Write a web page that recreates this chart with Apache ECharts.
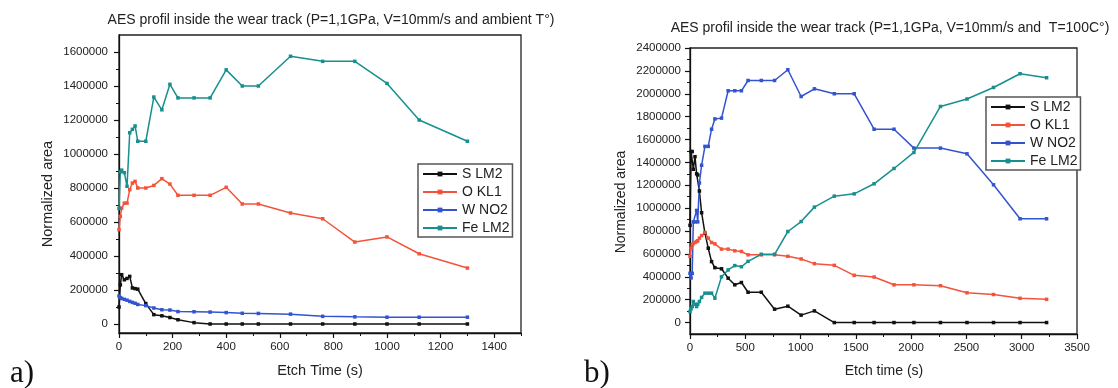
<!DOCTYPE html>
<html>
<head>
<meta charset="utf-8">
<script src="https://cdn.jsdelivr.net/npm/echarts@6/dist/echarts.min.js"></script>
<style>
  html, body { margin: 0; padding: 0; background: #fff; }
  #main { width: 1118px; height: 388px; }
</style>
</head>
<body>
<div id="main"></div>
<script>
// a) ambient temperature
const timeA = [0, 5, 10, 20, 30, 40, 50, 60, 70, 100, 130, 160, 190, 220, 280, 340, 400, 460, 520, 640, 760, 880, 1000, 1120, 1300]
const sLm2A = [100000, 230000, 290000, 260000, 268000, 280000, 212000, 208000, 205000, 120000, 55000, 48000, 38000, 25000, 8000, 0, 0, 0, 0, 0, 0, 0, 0, 0, 0]
const oKl1A = [555000, 633000, 682000, 711000, 711000, 790000, 829000, 839000, 800000, 800000, 815000, 855000, 823000, 757000, 757000, 757000, 804000, 706000, 706000, 653000, 619000, 482000, 512000, 413000, 329000]
const wNo2A = [165000, 155000, 150000, 145000, 140000, 133000, 127000, 122000, 115000, 108000, 94000, 84000, 82000, 73000, 72000, 70000, 67000, 63000, 62000, 58000, 45000, 42000, 40000, 40000, 40000]
const feLm2A = [680000, 895000, 905000, 890000, 810000, 1125000, 1145000, 1165000, 1075000, 1075000, 1335000, 1260000, 1410000, 1330000, 1330000, 1330000, 1495000, 1400000, 1400000, 1575000, 1545000, 1545000, 1415000, 1200000, 1075000]

// b) T = 100 C
const timeB = [0, 10, 20, 30, 45, 60, 70, 85, 105, 135, 165, 195, 225, 285, 345, 405, 465, 525, 645, 765, 885, 1005, 1125, 1305, 1485, 1665, 1845, 2025, 2265, 2505, 2745, 2985, 3225]
const sLm2B = [850000, 1495000, 1495000, 1340000, 1450000, 1300000, 1290000, 1150000, 960000, 782000, 650000, 533000, 480000, 470000, 388000, 330000, 350000, 265000, 265000, 117000, 143000, 65000, 102000, 0, 0, 0, 0, 0, 0, 0, 0, 0, 0]
const oKl1B = [580000, 650000, 680000, 690000, 700000, 708000, 715000, 738000, 760000, 787000, 738000, 700000, 688000, 642000, 642000, 627000, 621000, 592000, 592000, 592000, 579000, 556000, 515000, 500000, 413000, 398000, 330000, 330000, 322000, 260000, 245000, 212000, 203000]
const wNo2B = [430000, 390000, 430000, 880000, 880000, 980000, 880000, 1220000, 1375000, 1540000, 1540000, 1690000, 1780000, 1787000, 2026000, 2026000, 2026000, 2116000, 2116000, 2116000, 2210000, 1976000, 2043000, 2000000, 2000000, 1690000, 1690000, 1525000, 1525000, 1475000, 1204000, 907000, 907000]
const feLm2B = [96000, 120000, 140000, 184000, 160000, 140000, 160000, 184000, 220000, 257000, 257000, 257000, 213000, 400000, 460000, 498000, 488000, 535000, 597000, 597000, 796000, 883000, 1009000, 1105000, 1125000, 1213000, 1347000, 1487000, 1889000, 1954000, 2055000, 2175000, 2140000]

const names = ['S LM2', 'O KL1', 'W NO2', 'Fe LM2']
const colors = ['#111111', '#f4533b', '#3354cf', '#178f8f']

// tick labels
const xTicksA = [0, 200, 400, 600, 800, 1000, 1200, 1400]
const xMinorA = [100, 300, 500, 700, 900, 1100, 1300, 1500]
const yTicksA = [0, 200000, 400000, 600000, 800000, 1000000, 1200000, 1400000, 1600000]
const yMinorA = [100000, 300000, 500000, 700000, 900000, 1100000, 1300000, 1500000]
const xTicksB = [0, 500, 1000, 1500, 2000, 2500, 3000, 3500]
const xMinorB = [250, 750, 1250, 1750, 2250, 2750, 3250]
const yTicksB = [0, 200000, 400000, 600000, 800000, 1000000, 1200000, 1400000, 1600000, 1800000, 2000000, 2200000, 2400000]
const yMinorB = [100000, 300000, 500000, 700000, 900000, 1100000, 1300000, 1500000, 1700000, 1900000, 2100000, 2300000]

const font = '"Liberation Sans", Arial, sans-serif'
const labelText = { color: '#222', fontSize: 11.5, fontFamily: font }

const mainAxis = (grid, min, max, ticks, margin, pos) => ({
  type: 'value', gridIndex: grid, min, max, position: pos,
  axisLine: { show: true, onZero: false, lineStyle: { color: '#111', width: 1.3 } },
  axisTick: { show: true, customValues: ticks, length: 5, lineStyle: { color: '#111', width: 1.2 } },
  axisLabel: { customValues: ticks, margin, formatter: v => String(v), ...labelText },
  splitLine: { show: false }
})
const minorAxis = (grid, min, max, ticks, pos) => ({
  type: 'value', gridIndex: grid, min, max, position: pos,
  axisLine: { show: false, onZero: false },
  axisTick: { show: true, customValues: ticks, length: 3, lineStyle: { color: '#111', width: 1 } },
  axisLabel: { show: false },
  splitLine: { show: false }
})

const makeSeries = (xs, list, axis) => list.map((ys, k) => ({
  name: names[k], type: 'line', xAxisIndex: axis, yAxisIndex: axis,
  data: xs.map((t, i) => [t, ys[i]]),
  symbol: 'rect', symbolSize: 3.5, showSymbol: true,
  lineStyle: { color: colors[k], width: 1.5 },
  itemStyle: { color: colors[k] },
  emphasis: { disabled: true }
}))

const legendBox = (left, top) => ({
  data: names, left, top, orient: 'vertical',
  itemWidth: 34, itemHeight: 6, itemGap: 4,
  textStyle: { fontSize: 14, color: '#222', fontFamily: font },
  borderColor: '#555', borderWidth: 1.5, padding: [3, 3, 2, 4],
  backgroundColor: '#fff'
})

const txt = (text, x, y, size, extra) => ({
  type: 'text', x, y, ...extra,
  style: { text, fill: '#222', font: size + 'px ' + font, align: 'center', verticalAlign: 'middle' }
})

const chart = echarts.init(document.getElementById('main'))
const option = {
  animation: false,
  color: colors,
  grid: [
    { left: 119, top: 35, width: 402, height: 298, show: true, borderColor: '#222', borderWidth: 1.3, backgroundColor: 'transparent' },
    { left: 690, top: 48, width: 387, height: 286, show: true, borderColor: '#222', borderWidth: 1.3, backgroundColor: 'transparent' }
  ],
  xAxis: [
    mainAxis(0, 0, 1500, xTicksA, 8, 'bottom'),
    minorAxis(0, 0, 1500, xMinorA, 'bottom'),
    mainAxis(1, 0, 3500, xTicksB, 8, 'bottom'),
    minorAxis(1, 0, 3500, xMinorB, 'bottom')
  ],
  yAxis: [
    mainAxis(0, -53000, 1700000, yTicksA, 11, 'left'),
    minorAxis(0, -53000, 1700000, yMinorA, 'left'),
    mainAxis(1, -100000, 2400000, yTicksB, 9, 'left'),
    minorAxis(1, -100000, 2400000, yMinorB, 'left')
  ],
  legend: [legendBox(418, 164), legendBox(986, 97)],
  series: [
    ...makeSeries(timeA, [sLm2A, oKl1A, wNo2A, feLm2A], 0),
    ...makeSeries(timeB, [sLm2B, oKl1B, wNo2B, feLm2B], 2)
  ],
  graphic: [
    txt('AES profil inside the wear track (P=1,1GPa, V=10mm/s and ambient T°)', 331, 20, 14),
    txt('AES profil inside the wear track (P=1,1GPa, V=10mm/s and  T=100C°)', 890, 28, 14),
    txt('Normalized area', 48, 194, 14.5, { rotation: Math.PI / 2 }),
    txt('Normalized area', 621, 202, 14, { rotation: Math.PI / 2 }),
    txt('Etch Time (s)', 320, 371, 14.5),
    txt('Etch time (s)', 884, 371, 14),
    { type: 'text', x: 10, y: 374, style: { text: 'a)', fill: '#111', font: '31px "Liberation Serif", serif', verticalAlign: 'middle' } },
    { type: 'text', x: 584, y: 374, style: { text: 'b)', fill: '#111', font: '31px "Liberation Serif", serif', verticalAlign: 'middle' } }
  ]
}
chart.setOption(option)
</script>
</body>
</html>
